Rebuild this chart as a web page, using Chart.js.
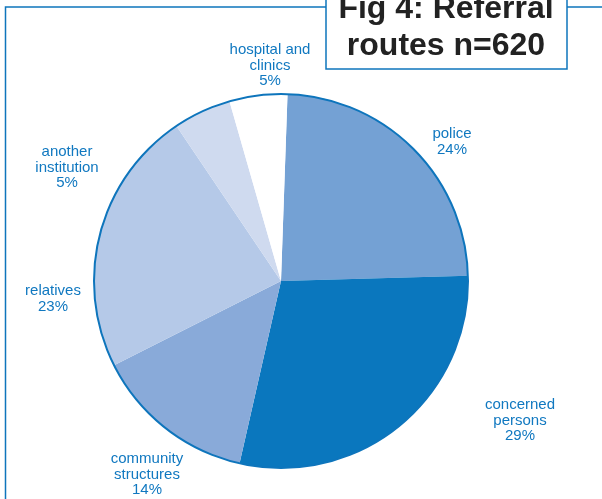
<!DOCTYPE html>
<html>
<head>
<meta charset="utf-8">
<script src="https://cdn.jsdelivr.net/npm/chart.js@4"></script>
<style>
  html, body { margin: 0; padding: 0; background: #fff; }
  #wrap { position: relative; width: 602px; height: 499px; }
</style>
</head>
<body>
<div id="wrap"><canvas id="referralChart" width="602" height="499"></canvas></div>
<script>
/* Fig 4: referral routes pie */
const routes = ['police', 'concerned persons', 'community structures', 'relatives', 'another institution', 'hospital and clinics'];
const shares = [24, 29, 14, 23, 5, 5];
const labelLines = [
  ['police'],
  ['concerned', 'persons'],
  ['community', 'structures'],
  ['relatives'],
  ['another', 'institution'],
  ['hospital and', 'clinics'],
];
const titleLines = ['Fig 4: Referral', 'routes n=620'];

const sliceColors = ['#74a1d4', '#0a77be', '#89aad9', '#b5c9e8', '#cfdaef', '#ffffff'];
const blue = '#0e75bc';

// where each slice label sits (centre x, first line centre y)
const labelPos = [
  [452, 134], [520, 405], [147, 459], [53, 291], [67, 152], [270, 50],
];

const framePlugin = {
  id: 'frame',
  afterDatasetsDraw(chart) {
    const ctx = chart.ctx;
    const arc = chart.getDatasetMeta(0).data[0];

    // outline round the pie
    ctx.save();
    ctx.strokeStyle = blue;
    ctx.lineWidth = 2;
    ctx.beginPath();
    ctx.arc(arc.x, arc.y, arc.outerRadius, 0, Math.PI * 2);
    ctx.stroke();

    // outer frame
    ctx.lineWidth = 1.5;
    ctx.beginPath();
    ctx.moveTo(5.5, 499);
    ctx.lineTo(5.5, 7);
    ctx.lineTo(602, 7);
    ctx.stroke();

    // title box
    ctx.fillStyle = '#fff';
    ctx.fillRect(326, -5, 241, 74);
    ctx.strokeRect(326, -5, 241, 74);
    ctx.fillStyle = '#222';
    ctx.font = 'bold 32px "Liberation Sans", Arial, sans-serif';
    ctx.textAlign = 'center';
    ctx.textBaseline = 'alphabetic';
    ctx.fillText(titleLines[0], 446, 18);
    ctx.fillText(titleLines[1], 446, 55);

    // slice labels
    ctx.fillStyle = '#1078c0';
    ctx.font = '15px "Liberation Sans", Arial, sans-serif';
    ctx.textBaseline = 'middle';
    labelLines.forEach((lines, i) => {
      const [x, y] = labelPos[i];
      const all = lines.concat([shares[i] + '%']);
      all.forEach((t, k) => ctx.fillText(t, x, y + k * 15.4));
    });
    ctx.restore();
  },
};

new Chart(document.getElementById('referralChart'), {
  type: 'pie',
  data: {
    labels: routes,
    datasets: [{
      data: shares,
      backgroundColor: sliceColors,
      borderWidth: 0,
      hoverOffset: 0,
      offset: 0,
    }],
  },
  options: {
    responsive: false,
    animation: false,
    events: [],
    rotation: 2,
    layout: { padding: { left: 94, right: 134, top: 94, bottom: 31 } },
    plugins: {
      legend: { display: false },
      tooltip: { enabled: false },
    },
  },
  plugins: [framePlugin],
});
</script>
</body>
</html>
